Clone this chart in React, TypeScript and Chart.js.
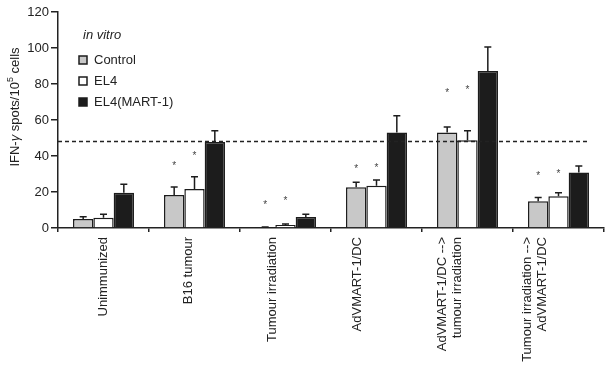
import React, { useEffect, useRef } from "react";
import { Chart, registerables } from "chart.js";

Chart.register(...registerables);

const FONT = "'Liberation Sans', Arial, Helvetica, sans-serif";
const TEXT = "#222222";

const categories: (string | string[])[] = [
  "Unimmunized",
  "B16 tumour",
  "Tumour irradiation",
  "AdVMART-1/DC",
  ["AdVMART-1/DC -->", "tumour irradiation"],
  ["Tumour irradiation -->", "AdVMART-1/DC"],
];
const seriesNames = ["Control", "EL4", "EL4(MART-1)"];
const seriesColors = ["#c8c8c8", "#ffffff", "#1c1c1c"];
const legendTitle = "in vitro";

const controlValues = [5.0, 18.3, 0.3, 22.6, 53.0, 14.8];
const controlErrors = [1.3, 4.5, 0.3, 2.8, 3.1, 2.1];
const el4Values = [5.7, 21.7, 1.7, 23.5, 48.7, 17.6];
const el4Errors = [1.9, 6.8, 0.5, 3.2, 5.3, 2.0];
const mart1Values = [19.6, 47.8, 6.1, 53.0, 87.2, 30.9];
const mart1Errors = [4.7, 6.2, 1.5, 9.4, 13.4, 3.5];

const controlStars: (number | null)[] = [null, 36, 14.4, 34.4, 76.3, 30.4];
const el4Stars: (number | null)[] = [null, 41.7, 16.5, 35, 78.5, 31.3];

const referenceLine = 48;
const yMin = 0;
const yMax = 120;
const yStep = 20;

const allValues = [controlValues, el4Values, mart1Values];
const allErrors = [controlErrors, el4Errors, mart1Errors];
const allStars = [controlStars, el4Stars];

const decorations = {
  id: "decorations",
  afterLayout(chart: any) {
    const xl = chart.scales.xl;
    const area = chart.chartArea;
    const w = area.right - area.left;
    xl.left = area.left + w * 0.005;
    xl.right = area.left + w * 0.937;
    xl.width = xl.right - xl.left;
    xl.configure();
  },
  afterDatasetsDraw(chart: any) {
    const ctx = chart.ctx;
    const y = chart.scales.y;
    const area = chart.chartArea;
    ctx.save();
    // error bars
    ctx.strokeStyle = "#1c1c1c";
    ctx.lineWidth = 1.5;
    allValues.forEach((vals, di) => {
      const meta = chart.getDatasetMeta(di);
      vals.forEach((v, i) => {
        const bar = meta.data[i];
        const top = y.getPixelForValue(v + allErrors[di][i]);
        ctx.beginPath();
        ctx.moveTo(bar.x, bar.y);
        ctx.lineTo(bar.x, top);
        ctx.moveTo(bar.x - 3.5, top);
        ctx.lineTo(bar.x + 3.5, top);
        ctx.stroke();
      });
    });
    // dashed reference line
    ctx.setLineDash([4, 3]);
    ctx.strokeStyle = TEXT;
    ctx.lineWidth = 1.5;
    const ry = y.getPixelForValue(referenceLine);
    ctx.beginPath();
    ctx.moveTo(area.left, ry);
    ctx.lineTo(area.right - 14, ry);
    ctx.stroke();
    ctx.setLineDash([]);
    // stars
    ctx.fillStyle = "#444";
    ctx.font = `10px ${FONT}`;
    ctx.textAlign = "center";
    ctx.textBaseline = "alphabetic";
    allStars.forEach((stars, di) => {
      const meta = chart.getDatasetMeta(di);
      stars.forEach((s, i) => {
        if (s === null) return;
        const py = y.getPixelForValue(s);
        ctx.fillText("*", meta.data[i].x, py + 10 * 0.58);
      });
    });
    // legend
    ctx.fillStyle = TEXT;
    ctx.textAlign = "left";
    ctx.textBaseline = "middle";
    ctx.font = `italic 13px ${FONT}`;
    ctx.fillText(legendTitle, area.left + 25, area.top + 23);
    ctx.font = `13px ${FONT}`;
    seriesNames.forEach((name, i) => {
      const cy = area.top + 48 + i * 21;
      ctx.fillStyle = seriesColors[i];
      ctx.fillRect(area.left + 21, cy - 4, 8, 8);
      ctx.strokeStyle = "#1c1c1c";
      ctx.lineWidth = 1.5;
      ctx.strokeRect(area.left + 21, cy - 4, 8, 8);
      ctx.fillStyle = TEXT;
      ctx.fillText(name, area.left + 36, cy);
    });
    // y-axis title
    const parts = [
      { t: "IFN-", f: `13px ${FONT}`, dy: 0 },
      { t: "γ", f: `italic 13px ${FONT}`, dy: 0 },
      { t: " spots/10", f: `13px ${FONT}`, dy: 0 },
      { t: "5", f: `9px ${FONT}`, dy: -4 },
      { t: " cells", f: `13px ${FONT}`, dy: 0 },
    ];
    let total = 0;
    parts.forEach((p) => {
      ctx.font = p.f;
      total += ctx.measureText(p.t).width;
    });
    ctx.translate(15, area.top + (area.bottom - area.top) * 0.44);
    ctx.rotate(-Math.PI / 2);
    let x = -total / 2;
    parts.forEach((p) => {
      ctx.font = p.f;
      ctx.fillText(p.t, x, p.dy);
      x += ctx.measureText(p.t).width;
    });
    ctx.restore();
  },
};

export default function App() {
  const ref = useRef<HTMLCanvasElement | null>(null);
  useEffect(() => {
    if (!ref.current) return;
    const chart = new Chart(ref.current, {
      type: "bar",
      data: {
        labels: categories as any,
        datasets: allValues.map((vals, i) => ({
          label: seriesNames[i],
          data: vals,
          backgroundColor: seriesColors[i],
          borderColor: "#1c1c1c",
          borderWidth: 1.5,
          categoryPercentage: 0.67,
          barPercentage: 1.0,
          xAxisID: "x",
          yAxisID: "y",
        })),
      },
      options: {
        responsive: false,
        animation: false,
        layout: { padding: { top: 12, right: 2, left: 0, bottom: 0 } },
        plugins: { legend: { display: false }, tooltip: { enabled: false } },
        scales: {
          x: {
            type: "category",
            position: "bottom",
            weight: 0,
            offset: true,
            grid: {
              display: true,
              drawOnChartArea: false,
              drawTicks: true,
              tickLength: 4,
              offset: true,
              color: TEXT,
              lineWidth: 1.5,
            },
            border: { display: true, color: TEXT, width: 1.5 },
            ticks: { display: false },
            afterFit: (s: any) => {
              s.height = 4;
            },
          },
          xl: {
            type: "category",
            position: "bottom",
            weight: 1,
            offset: true,
            labels: categories as any,
            grid: { display: false, drawTicks: false },
            border: { display: false },
            ticks: {
              autoSkip: false,
              maxRotation: 90,
              minRotation: 90,
              padding: 5,
              color: TEXT,
              font: { family: FONT, size: 13, lineHeight: 1.15 },
            },
            afterFit: (s: any) => {
              s.height = 133;
            },
          },
          y: {
            min: yMin,
            max: yMax,
            ticks: {
              stepSize: yStep,
              padding: 2,
              color: TEXT,
              font: { family: FONT, size: 13 },
            },
            grid: {
              display: true,
              drawOnChartArea: false,
              drawTicks: true,
              tickLength: 7,
              color: TEXT,
              lineWidth: 1.5,
            },
            border: { display: true, color: TEXT, width: 1.5 },
            afterFit: (s: any) => {
              s.width = 58;
            },
          },
        },
      },
      plugins: [decorations],
    });
    return () => chart.destroy();
  }, []);
  return (
    <div style={{ position: "absolute", left: 0, top: 0, width: 606, height: 365, background: "#fff" }}>
      <canvas ref={ref} width={606} height={365} style={{ display: "block" }} />
    </div>
  );
}
